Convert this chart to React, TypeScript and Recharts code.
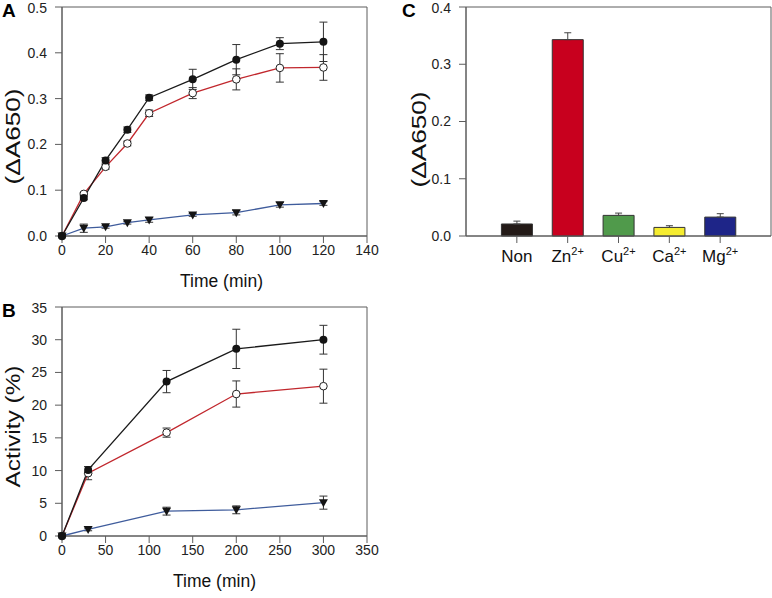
import React from "react";
import {
  Bar,
  BarChart,
  Cell,
  ErrorBar,
  Line,
  LineChart,
  ReferenceArea,
  XAxis,
  YAxis,
} from "recharts";

const FONT = '"Liberation Sans", Arial, Helvetica, sans-serif';
const FRAME = "#5c5c5c";
const INK = "#1a1a1a";

// Panel A: absorbance vs time
const timeA = [0, 10, 20, 30, 40, 60, 80, 100, 120];
const filledA = [0, 0.083, 0.165, 0.232, 0.302, 0.342, 0.385, 0.42, 0.424];
const filledAErr = [0, 0.004, 0.006, 0.006, 0.006, 0.022, 0.033, 0.013, 0.043];
const openA = [0, 0.092, 0.151, 0.202, 0.268, 0.312, 0.342, 0.367, 0.368];
const openAErr = [0, 0.003, 0.005, 0.005, 0.007, 0.012, 0.023, 0.031, 0.028];
const triA = [0, 0.017, 0.02, 0.029, 0.035, 0.046, 0.051, 0.068, 0.071];
const triAErr = [0, 0.009, 0.003, 0.003, 0.005, 0.003, 0.005, 0.005, 0.004];
const ticksAX = [0, 20, 40, 60, 80, 100, 120, 140];
const ticksAY = [0, 0.1, 0.2, 0.3, 0.4, 0.5];

// Panel B: activity vs time
const timeB = [0, 30, 120, 200, 300];
const filledB = [0, 10.1, 23.6, 28.6, 30.0];
const filledBErr = [0, 0.5, 1.7, 3.0, 2.2];
const openB = [0, 9.6, 15.8, 21.7, 22.9];
const openBErr = [0, 1.0, 0.7, 2.0, 2.6];
const triB = [0, 1.0, 3.8, 4.0, 5.1];
const triBErr = [0, 0.2, 0.6, 0.6, 1.0];
const ticksBX = [0, 50, 100, 150, 200, 250, 300, 350];
const ticksBY = [0, 5, 10, 15, 20, 25, 30, 35];

// Panel C: metal ions
const metals = ["Non", "Zn", "Cu", "Ca", "Mg"];
const charges = ["", "2+", "2+", "2+", "2+"];
const absC = [0.021, 0.343, 0.036, 0.015, 0.033];
const absCErr = [0.005, 0.012, 0.004, 0.003, 0.006];
const ticksCY = [0, 0.1, 0.2, 0.3, 0.4];
const slotDomainC = [-1, 5];
const BAR_COLORS = ["#231a17", "#c8001e", "#509a4b", "#f5ec30", "#1e2588"];

const rowsA = timeA.map((t, i) => ({
  t,
  filled: filledA[i],
  filledErr: filledAErr[i],
  open: openA[i],
  openErr: openAErr[i],
  tri: triA[i],
  triErr: triAErr[i],
}));

const rowsB = timeB.map((t, i) => ({
  t,
  filled: filledB[i],
  filledErr: filledBErr[i],
  open: openB[i],
  openErr: openBErr[i],
  tri: triB[i],
  triErr: triBErr[i],
}));

const rowsC = metals.map((name, i) => ({
  name,
  slot: i,
  value: absC[i],
  err: [0, absCErr[i]],
}));

const tickStyle = { fontSize: 14, fill: "#222", fontFamily: FONT };

const FilledDot = (p: any) =>
  p.cx == null ? null : (
    <circle key={`f-${p.index}`} cx={p.cx} cy={p.cy} r={4} fill="#141414" />
  );

const OpenDot = (p: any) =>
  p.cx == null ? null : (
    <circle
      key={`o-${p.index}`}
      cx={p.cx}
      cy={p.cy}
      r={3.8}
      fill="#fff"
      stroke="#222"
      strokeWidth={1}
    />
  );

const TriDot = (p: any) =>
  p.cx == null ? null : (
    <polygon
      key={`t-${p.index}`}
      points={`${p.cx - 4.5},${p.cy - 3.5} ${p.cx + 4.5},${p.cy - 3.5} ${p.cx},${p.cy + 4.5}`}
      fill="#141414"
    />
  );

function VLabel({ viewBox, text, dx, dy, len }: any) {
  const x = viewBox.x + dx;
  const y = viewBox.y + viewBox.height / 2 + dy;
  return (
    <text
      x={x}
      y={y}
      transform={`rotate(-90 ${x} ${y})`}
      textAnchor="middle"
      dominantBaseline="central"
      fontSize={20}
      textLength={len}
      lengthAdjust="spacingAndGlyphs"
      fontFamily={FONT}
      fill="#111"
    >
      {text}
    </text>
  );
}

function HLabel({ viewBox, text, dx, baseline }: any) {
  return (
    <text
      x={viewBox.x + viewBox.width / 2 + dx}
      y={viewBox.y + baseline}
      textAnchor="middle"
      fontSize={17.5}
      fontFamily={FONT}
      fill="#111"
    >
      {text}
    </text>
  );
}

function IonTick({ x, y, payload }: any) {
  const i = Math.round(payload.value);
  return (
    <text
      x={x}
      y={y}
      dy="0.71em"
      textAnchor="middle"
      fontSize={17}
      fontFamily={FONT}
      fill="#111"
    >
      {metals[i]}
      {charges[i] ? (
        <tspan fontSize={11} dy={-7}>
          {charges[i]}
        </tspan>
      ) : null}
    </text>
  );
}

function TimePanel({ rows, xTicks, yTicks, xMax, yMax, fmt, yTitle, titleLen, titleDy, titleDx, xTitleDx, xTitleBase, height }: any) {
  return (
    <LineChart
      width={380}
      height={height}
      data={rows}
      margin={{ top: 7, right: 13, bottom: height - 7 - 229 - 54, left: 0 }}
    >
      <XAxis
        dataKey="t"
        type="number"
        domain={[0, xMax]}
        ticks={xTicks}
        height={54}
        tick={tickStyle}
        tickSize={7}
        tickMargin={2}
        stroke={FRAME}
        label={<HLabel text="Time (min)" dx={xTitleDx} baseline={xTitleBase} />}
      />
      <YAxis
        type="number"
        domain={[0, yMax]}
        ticks={yTicks}
        width={62}
        tick={tickStyle}
        tickSize={7}
        tickMargin={8}
        tickFormatter={fmt}
        stroke={FRAME}
        label={<VLabel text={yTitle} dx={titleDx} dy={titleDy} len={titleLen} />}
      />
      <ReferenceArea
        x1={0}
        x2={xMax}
        y1={0}
        y2={yMax}
        fill="none"
        stroke={FRAME}
        strokeWidth={1}
        ifOverflow="visible"
      />
      <Line
        dataKey="tri"
        stroke="#3f5c9c"
        strokeWidth={1.3}
        dot={TriDot}
        isAnimationActive={false}
      >
        <ErrorBar dataKey="triErr" width={4} stroke="#333" strokeWidth={1} direction="y" />
      </Line>
      <Line
        dataKey="open"
        stroke="#c1272d"
        strokeWidth={1.3}
        dot={OpenDot}
        isAnimationActive={false}
      >
        <ErrorBar dataKey="openErr" width={4} stroke="#333" strokeWidth={1} direction="y" />
      </Line>
      <Line
        dataKey="filled"
        stroke={INK}
        strokeWidth={1.3}
        dot={FilledDot}
        isAnimationActive={false}
      >
        <ErrorBar dataKey="filledErr" width={4} stroke="#333" strokeWidth={1} direction="y" />
      </Line>
    </LineChart>
  );
}

const letterStyle: React.CSSProperties = {
  position: "absolute",
  fontFamily: FONT,
  fontWeight: 700,
  fontSize: 19,
  lineHeight: "19px",
  color: "#000",
};

export default function App() {
  return (
    <div
      style={{
        position: "absolute",
        left: 0,
        top: 0,
        width: 772,
        height: 598,
        background: "#fff",
        overflow: "hidden",
      }}
    >
      <div style={{ ...letterStyle, left: 2, top: 1 }}>A</div>
      <div style={{ ...letterStyle, left: 2, top: 301 }}>B</div>
      <div style={{ ...letterStyle, left: 402, top: 1 }}>C</div>

      <div style={{ position: "absolute", left: 0, top: 0 }}>
        <TimePanel
          rows={rowsA}
          xTicks={ticksAX}
          yTicks={ticksAY}
          xMax={140}
          yMax={0.5}
          fmt={(v: number) => v.toFixed(1)}
          yTitle="(ΔA650)"
          titleLen={96}
          titleDx={13}
          titleDy={15}
          xTitleDx={7}
          xTitleBase={51}
          height={300}
        />
      </div>

      <div style={{ position: "absolute", left: 0, top: 300 }}>
        <TimePanel
          rows={rowsB}
          xTicks={ticksBX}
          yTicks={ticksBY}
          xMax={350}
          yMax={35}
          fmt={(v: number) => String(v)}
          yTitle="Activity (%)"
          titleLen={122}
          titleDx={13}
          titleDy={5}
          xTitleDx={0}
          xTitleBase={51}
          height={298}
        />
      </div>

      <div style={{ position: "absolute", left: 400, top: 0 }}>
        <BarChart
          width={372}
          height={300}
          data={rowsC}
          margin={{ top: 7, right: 1, bottom: 10, left: 0 }}
        >
          <XAxis
            dataKey="slot"
            type="number"
            domain={slotDomainC}
            ticks={[0, 1, 2, 3, 4]}
            height={54}
            tick={<IonTick />}
            tickSize={7}
            tickMargin={7}
            interval={0}
            stroke={FRAME}
          />
          <YAxis
            type="number"
            domain={[0, 0.4]}
            ticks={ticksCY}
            width={66}
            tick={tickStyle}
            tickSize={7}
            tickMargin={8}
            tickFormatter={(v: number) => v.toFixed(1)}
            stroke={FRAME}
            label={<VLabel text="(ΔA650)" dx={19} dy={18} len={96} />}
          />
          <ReferenceArea
            x1={slotDomainC[0]}
            x2={slotDomainC[1]}
            y1={0}
            y2={0.4}
            fill="none"
            stroke={FRAME}
            strokeWidth={1}
            ifOverflow="visible"
          />
          <Bar
            dataKey="value"
            barSize={31}
            stroke="#333"
            strokeWidth={1}
            isAnimationActive={false}
          >
            {rowsC.map((r, i) => (
              <Cell key={r.name} fill={BAR_COLORS[i]} />
            ))}
            <ErrorBar dataKey="err" width={3.5} stroke="#444" strokeWidth={1} direction="y" />
          </Bar>
        </BarChart>
      </div>
    </div>
  );
}
